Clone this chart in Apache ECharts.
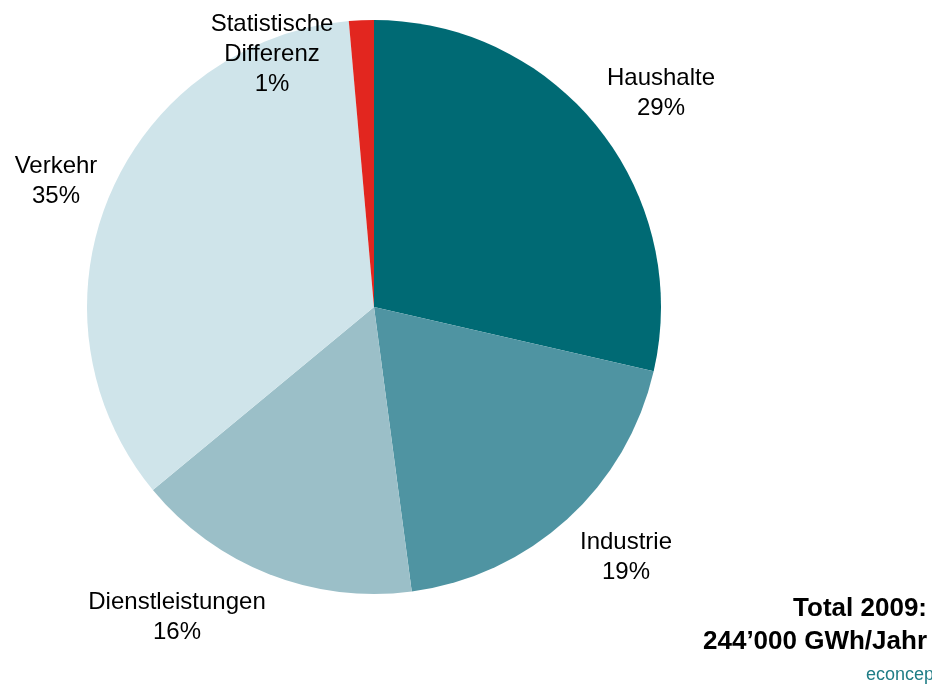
<!DOCTYPE html>
<html>
<head>
<meta charset="utf-8">
<script src="https://cdn.jsdelivr.net/npm/echarts@6/dist/echarts.min.js"></script>
<style>
html,body{margin:0;padding:0;background:#fff;}
#c{width:932px;height:688px;}
</style>
</head>
<body>
<div id="c"></div>
<script>
const categories = ['Haushalte', 'Industrie', 'Dienstleistungen', 'Verkehr', 'Statistische\nDifferenz'];
const values = [28.6, 19.3, 16.1, 34.6, 1.4];
const colors = ['#006a74', '#4f94a2', '#9bbfc8', '#cfe4ea', '#e2261f'];
const totalLines = ['Total 2009:', '244\u2019000 GWh/Jahr'];

// label anchor points (layout only)
const labelPos = [[661, 93], [626, 557], [177, 617], [56, 181], [272, 54]];

const chart = echarts.init(document.getElementById('c'));
chart.setOption({
  animation: false,
  backgroundColor: '#ffffff',
  graphic: [
    {
      type: 'text', right: 5, top: 596,
      style: { text: totalLines[0], font: 'bold 26px "Liberation Sans", Arial, sans-serif', fill: '#000' }
    },
    {
      type: 'text', right: 5, top: 629,
      style: { text: totalLines[1], font: 'bold 26px "Liberation Sans", Arial, sans-serif', fill: '#000' }
    },
    {
      type: 'text', left: 866, top: 666,
      style: { text: 'econcept', font: '18px "Liberation Sans", Arial, sans-serif', fill: '#1f7d86' }
    }
  ],
  series: [{
    type: 'pie',
    center: [374, 307],
    radius: [0, 287],
    startAngle: 90,
    clockwise: true,
    avoidLabelOverlap: false,
    data: categories.map((n, i) => ({ name: n, value: values[i], itemStyle: { color: colors[i] } })),
    itemStyle: { borderWidth: 0 },
    label: {
      show: true,
      position: 'outside',
      formatter: p => p.name + '\n' + Math.round(p.percent) + '%',
      fontFamily: '"Liberation Sans", Arial, sans-serif',
      fontSize: 24,
      lineHeight: 30,
      color: '#000',
      align: 'center'
    },
    labelLine: { show: false },
    labelLayout: function (params) {
      const p = labelPos[params.dataIndex];
      return { x: p[0], y: p[1], align: 'center', verticalAlign: 'middle' };
    },
    emphasis: { disabled: true }
  }]
});
</script>
</body>
</html>
